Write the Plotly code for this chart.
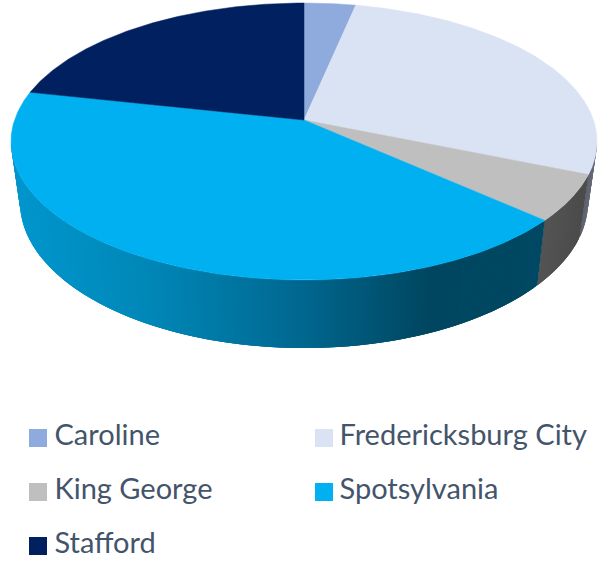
import numpy as np
import plotly.graph_objects as go

# Data
categories = ["Caroline", "Fredericksburg City", "King George", "Spotsylvania", "Stafford"]
values = [3.3, 27.9, 5.4, 41.8, 21.6]
colors = ["#8FAADC", "#DAE3F3", "#BFBFBF", "#00B0F0", "#002060"]

# Projection of the tilted pie onto the page
CX, TOP_CY, TOP_RX, TOP_RY = 304.0, 141.5, 293.0, 138.5
BOT_CY, BOT_RX, BOT_RY = 202.0, 284.0, 146.0
K = 0.155  # perspective shift of the pie's centre

# Wall shading: (page x, rgb) stops per slice that shows a wall
wall_stops = {
    "Fredericksburg City": [(575, (85, 90, 102)), (590, (100, 104, 116)), (600, (112, 116, 128))],
    "King George": [(535, (85, 85, 85)), (580, (76, 76, 76))],
    "Spotsylvania": [(11, (0, 151, 206)), (150, (0, 135, 183)), (290, (0, 106, 147)),
                     (430, (0, 70, 96)), (545, (0, 72, 99))],
}


def persp(a):
    """True clockwise angle from 12 o'clock -> point on the unit ellipse."""
    X, Y = np.sin(a), np.cos(a)
    d = 1 + K * Y
    return X * np.sqrt(1 - K * K) / d, (Y + K) / d


def top_xy(u, v):
    return CX + TOP_RX * np.asarray(u), TOP_CY - TOP_RY * np.asarray(v)


def bot_xy(u, v):
    return CX + BOT_RX * np.asarray(u), BOT_CY - BOT_RY * np.asarray(v)


def rgb_at(stops, x):
    xs = [s[0] for s in stops]
    c = [np.interp(x, xs, [s[1][i] for s in stops]) for i in range(3)]
    return "rgb(%d,%d,%d)" % tuple(int(round(v)) for v in c)


fig = go.Figure()
edges = np.cumsum([0] + values) / sum(values) * 2 * np.pi


def add_poly(x, y, color, lw=0):
    fig.add_trace(go.Scatter(x=np.round(x, 2), y=np.round(y, 2), mode="lines", fill="toself",
                             fillcolor=color, line=dict(color=color, width=lw),
                             hoverinfo="skip", showlegend=False))


# Side walls: overlapping shaded bands, each painted over the previous one's tail
for i, name in enumerate(categories):
    if name not in wall_stops:
        continue
    ua, va = persp(edges[i])
    ub, vb = persp(edges[i + 1])
    pa = max(np.arctan2(ua, va), np.pi / 2)
    pb = min(np.arctan2(ub, vb) % (2 * np.pi), 3 * np.pi / 2)
    if pb <= pa:
        continue
    n = max(3, int((pb - pa) * 290 / 3.0))
    ph = np.linspace(pa, pb, n + 1)
    for j in range(n):
        fine = ph[j:min(j + 4, n + 1)]
        u, v = np.sin(fine), np.cos(fine)
        tx, ty = top_xy(u, v)
        bx, by = bot_xy(u, v)
        xmid = (tx[:2].mean() + bx[:2].mean()) / 2
        add_poly(np.r_[tx, bx[::-1]], np.r_[ty, by[::-1]], rgb_at(wall_stops[name], xmid))

# Top face
ax, ay = top_xy(0.0, K)  # centre of the pie under perspective
for i, name in enumerate(categories):
    a = np.linspace(edges[i], edges[i + 1], 200)
    x, y = top_xy(*persp(a))
    add_poly(np.r_[ax, x, ax], np.r_[ay, y, ay], colors[i], lw=0.5)

# Legend rows
swatch_x = [38, 324, 38, 324, 38]
swatch_y = [438, 438, 492, 492, 546]
text_x = [54.5, 339.5, 54.5, 339.5, 54.5]
text_y = [437.5, 437.5, 491.5, 491.5, 545.5]
for i, name in enumerate(categories):
    fig.add_trace(go.Scatter(x=[swatch_x[i]], y=[swatch_y[i]], mode="markers",
                             marker=dict(symbol="square", size=18, color=colors[i]),
                             hoverinfo="skip", showlegend=False, cliponaxis=False))
    fig.add_trace(go.Scatter(x=[text_x[i]], y=[text_y[i]], mode="text",
                             text=[name], textposition="middle right",
                             textfont=dict(family="Lato", size=29, color="#44546A"),
                             hoverinfo="skip", showlegend=False, cliponaxis=False))

fig.update_layout(width=603, height=563, margin=dict(l=0, r=0, t=0, b=0),
                  paper_bgcolor="white", plot_bgcolor="white", showlegend=False,
                  xaxis=dict(range=[0, 603], visible=False, fixedrange=True),
                  yaxis=dict(range=[563, 0], visible=False, fixedrange=True))
fig.write_html("out.html", config=dict(displayModeBar=False),
               post_script="document.body.style.margin='0';document.body.style.overflow='hidden';")
